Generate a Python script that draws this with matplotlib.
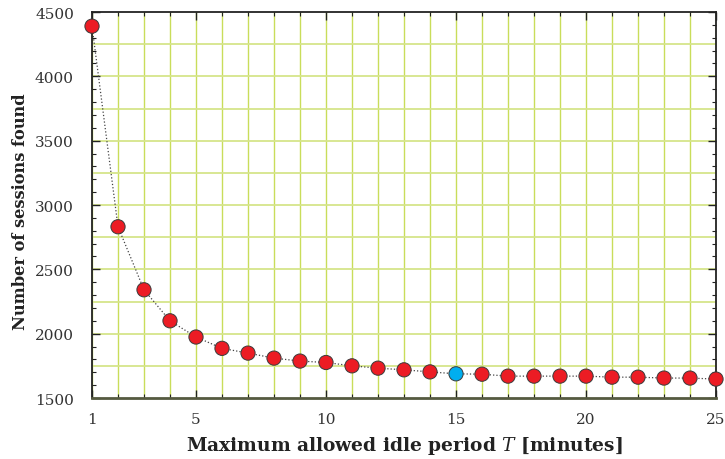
import matplotlib
matplotlib.use('Agg')
import matplotlib.pyplot as plt
from matplotlib.ticker import MultipleLocator, FixedLocator

# idle period T (minutes) and number of sessions found
idle_minutes = list(range(1, 26))
sessions = [4390, 2831, 2341, 2100, 1974, 1886, 1849, 1810, 1787, 1776,
            1750, 1732, 1719, 1703, 1688, 1685, 1670, 1670, 1670, 1670,
            1662, 1662, 1655, 1655, 1647]
highlight_T = 15

x_ticks = [1, 5, 10, 15, 20, 25]

plt.rcParams['mathtext.fontset'] = 'dejavuserif'
plt.rcParams['font.family'] = ['DejaVu Serif']

fig = plt.figure(figsize=(7.25, 4.6), dpi=100)
ax = fig.add_axes([0.1269, 0.1326, 0.8607, 0.8391])

grid_col = '#c9dd5a'
for xv in idle_minutes:
    ax.axvline(xv, color=grid_col, lw=1.0, zorder=0)
for yv in range(1750, 4500, 250):
    ax.axhline(yv, color='#d5e58a', lw=1.3, zorder=0)

ax.plot(idle_minutes, sessions, linestyle=':', color='#444444', lw=0.9, zorder=2)
colors = ['#00aeef' if t == highlight_T else '#ec1c24' for t in idle_minutes]
ax.scatter(idle_minutes, sessions, s=105, c=colors, edgecolors='#3a3a3a',
           linewidths=0.7, zorder=3, clip_on=False)

ax.set_xlim(1, 25)
ax.set_ylim(1500, 4500)
ax.xaxis.set_major_locator(FixedLocator(x_ticks))
ax.xaxis.set_minor_locator(MultipleLocator(1))
ax.yaxis.set_major_locator(MultipleLocator(500))
ax.yaxis.set_minor_locator(MultipleLocator(100))
ax.tick_params(which='both', direction='in', top=True, right=True,
               color='#222222', labelsize=11, labelcolor='#333333')
ax.tick_params(axis='x', pad=10)
ax.tick_params(axis='y', pad=13)
ax.tick_params(which='major', length=6, width=1.0)
ax.tick_params(which='minor', length=3, width=0.8)
for sp in ax.spines.values():
    sp.set_linewidth(1.3)
    sp.set_color('#222222')
ax.spines['bottom'].set_color('#555a40')
ax.spines['bottom'].set_linewidth(2.0)

ax.set_xlabel('Maximum allowed idle period $T$ [minutes]', fontsize=13.4,
              fontweight='bold', color='#222222')
ax.set_ylabel('Number of sessions found', fontsize=11.7,
              fontweight='bold', color='#222222')
ax.xaxis.set_label_coords(0.5, -0.093)
ax.yaxis.set_label_coords(-0.101, 0.485)

fig.savefig('out.png', dpi=100)
